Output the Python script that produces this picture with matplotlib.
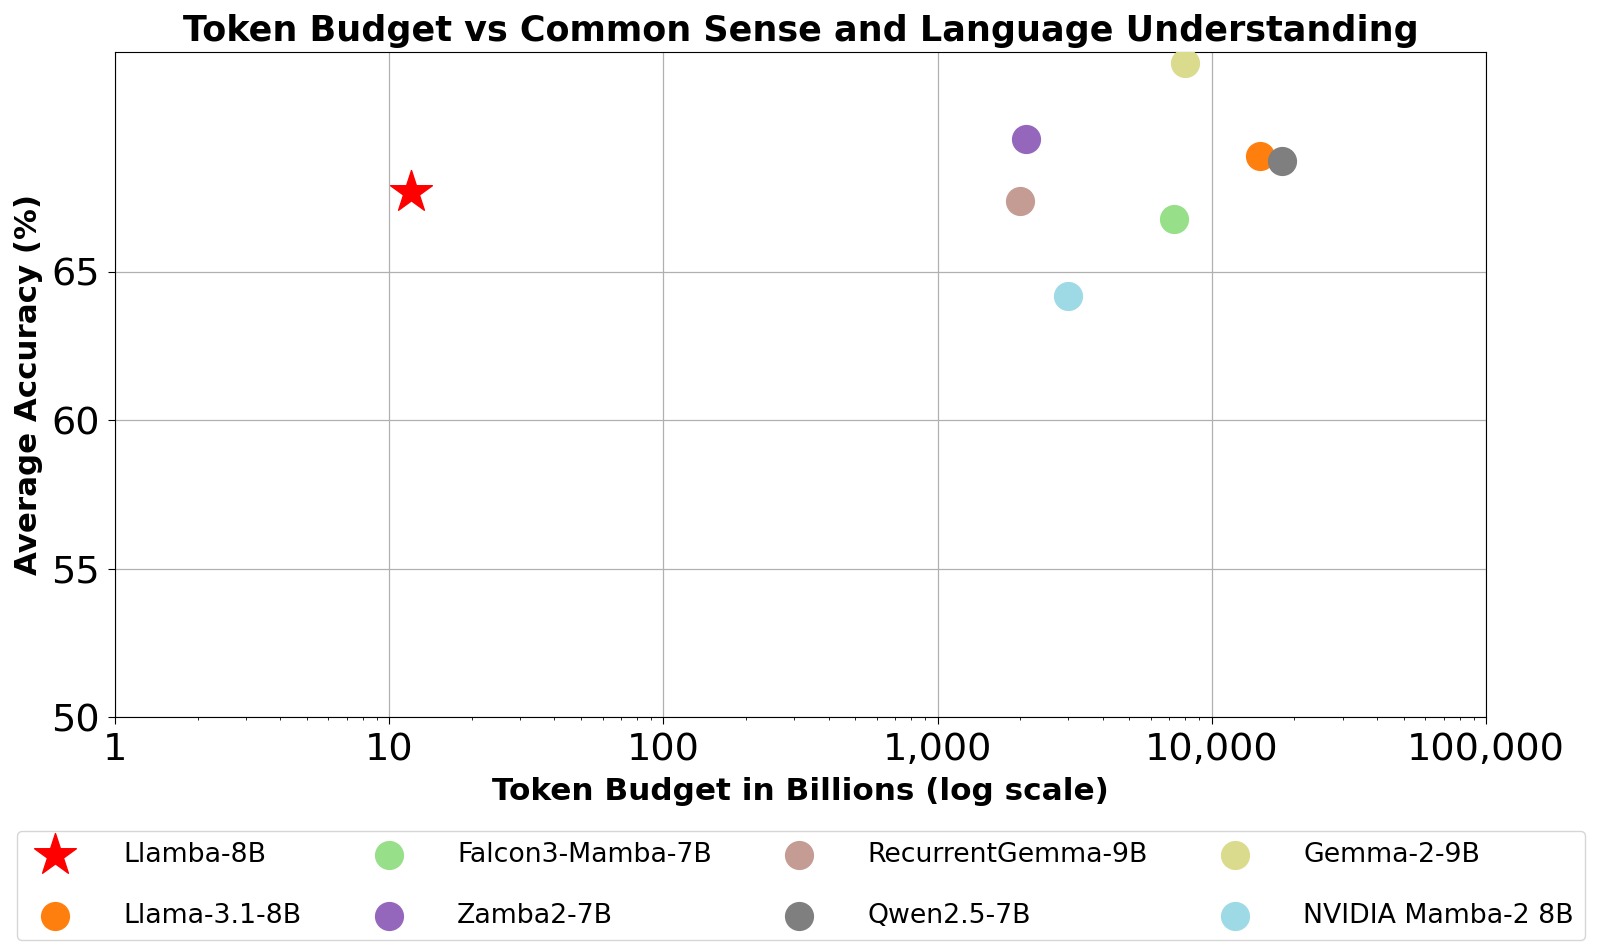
import matplotlib
matplotlib.use("Agg")
import matplotlib.pyplot as plt
from matplotlib.ticker import FuncFormatter

# token budget (billions) and average accuracy (%) per model
modelos = [
    "Llamba-8B",
    "Llama-3.1-8B",
    "Falcon3-Mamba-7B",
    "Zamba2-7B",
    "RecurrentGemma-9B",
    "Qwen2.5-7B",
    "Gemma-2-9B",
    "NVIDIA Mamba-2 8B",
]
tokens = [12, 15000, 7300, 2100, 2000, 18000, 8000, 3000]
acuracia = [67.67, 68.91, 66.77, 69.47, 67.37, 68.72, 72.04, 64.19]
cores = ["red", "#ff7f0e", "#98df8a", "#9467bd", "#c49c94", "#7f7f7f", "#dbdb8d", "#9edae5"]
marcadores = ["*", "o", "o", "o", "o", "o", "o", "o"]
tamanhos = [1000, 400, 400, 400, 400, 400, 400, 400]

y_ticks = [50, 55, 60, 65]
x_ticks = [1, 10, 100, 1000, 10000, 100000]

fig = plt.figure(figsize=(16, 9.52), dpi=100)
ax = fig.add_axes([0.0719, 0.2468, 0.8569, 0.6986])

for nome, x, y, cor, m, s in zip(modelos, tokens, acuracia, cores, marcadores, tamanhos):
    ax.scatter(x, y, color=cor, marker=m, s=s, label=nome, zorder=3)

ax.set_xscale("log")
ax.set_xlim(1, 100000)
ax.set_ylim(50, 72.4)
ax.set_xticks(x_ticks)
ax.set_yticks(y_ticks)
ax.xaxis.set_major_formatter(FuncFormatter(lambda v, pos: f"{v:,.0f}"))
ax.tick_params(axis="both", which="major", labelsize=27.5, length=5, pad=6)
ax.grid(True, which="major", color="#b0b0b0", linewidth=0.9)
ax.axvline(1, color="black", linestyle="--", linewidth=1.2, zorder=4)

ax.set_xlabel("Token Budget in Billions (log scale)", fontsize=22.4, fontweight="bold", labelpad=6)
ax.set_ylabel("Average Accuracy (%)", fontsize=22.2, fontweight="bold", labelpad=6)
ax.set_title("Token Budget vs Common Sense and Language Understanding",
             fontsize=25.2, fontweight="bold", pad=8)

fig.legend(
    loc="upper center",
    bbox_to_anchor=(0.5006, 0.1271),
    borderaxespad=0,
    ncol=4,
    fontsize=19.3,
    handlelength=2.0,
    handletextpad=1.55,
    columnspacing=2.25,
    labelspacing=1.3,
    borderpad=0.42,
    scatterpoints=1,
)

fig.savefig("out.png", dpi=100)
